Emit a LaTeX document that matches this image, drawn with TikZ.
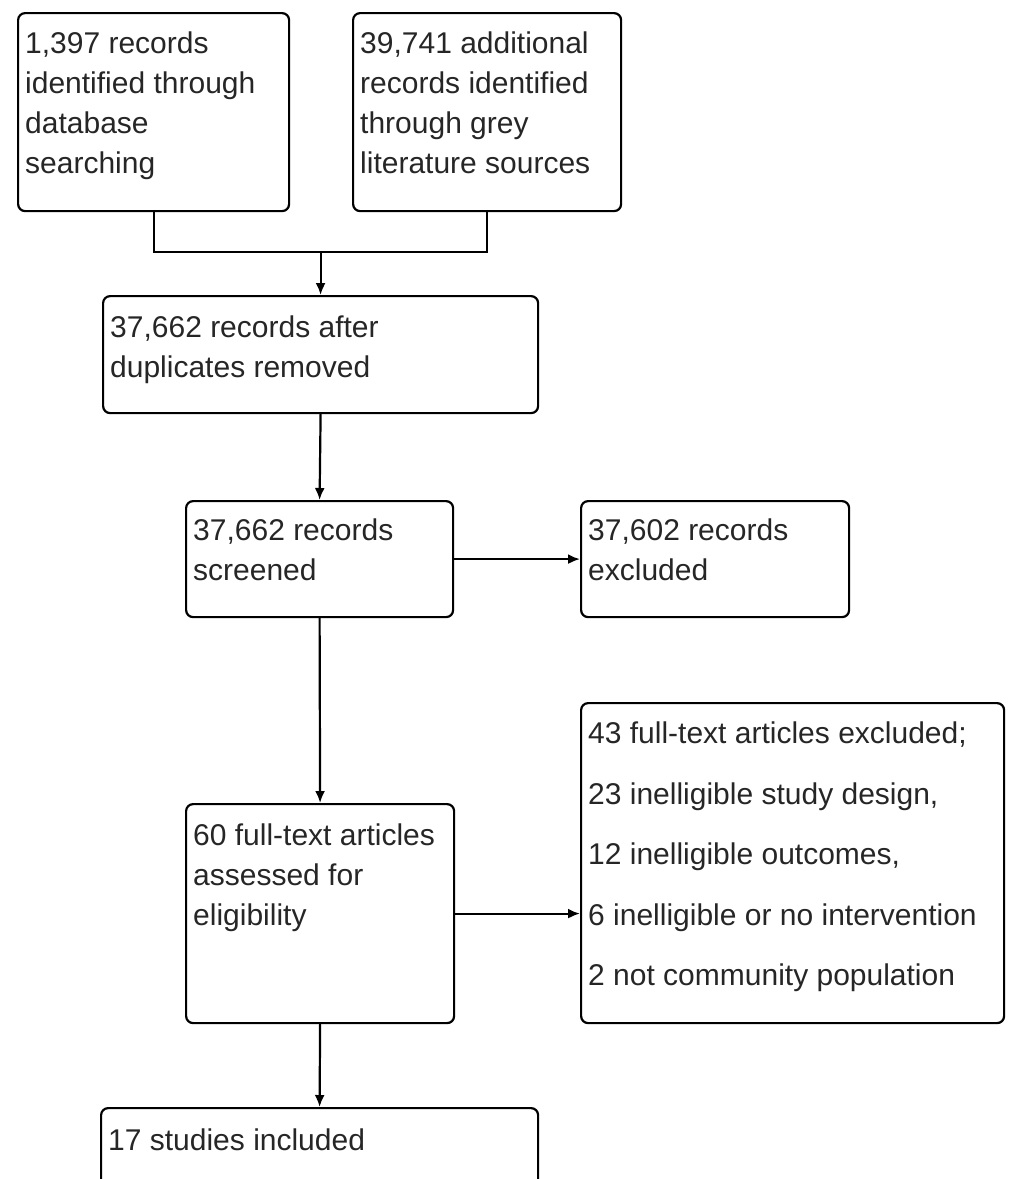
\documentclass[tikz,border=0pt]{standalone}
\usepackage{fontspec}
\setmainfont{Liberation Sans}
\usetikzlibrary{arrows.meta,calc}
\begin{document}
\begin{tikzpicture}[x=1pt,y=1pt,
  box/.style={draw=black, line width=2.2pt, rounded corners=7pt, anchor=north west, inner sep=0pt},
  txt/.style={anchor=north west, inner sep=0pt, align=left, text=black!85, font=\fontsize{30}{40}\selectfont},
  txtwide/.style={txt, font=\fontsize{30}{60.5}\selectfont},
  conn/.style={line width=2.2pt},
  arr/.style={conn, -{Latex[length=12pt,width=10pt]}}]
\useasboundingbox (0,0) rectangle (1010,-1179);
\clip (0,0) rectangle (1010,-1179);
% boxes
\node[box, minimum width=271, minimum height=198] (A) at (17,-12) {};
\node[box, minimum width=268, minimum height=198] (B) at (352,-12) {};
\node[box, minimum width=435, minimum height=117] (C) at (102,-295) {};
\node[box, minimum width=267, minimum height=116] (D) at (185,-500) {};
\node[box, minimum width=268, minimum height=116] (E) at (580,-500) {};
\node[box, minimum width=268, minimum height=219] (F) at (185,-803) {};
\node[box, minimum width=423, minimum height=320] (G) at (580,-702) {};
\node[box, minimum width=437, minimum height=150] (H) at (100,-1107) {};
% texts
\node[txt] (tA) at (25,-32) {1,397 records\\identified through\\database\\searching};
\node[txt] (tB) at (360,-32) {39,741 additional\\records identified\\through grey\\literature sources};
\node[txt] (tC) at (110,-316) {37,662 records after\\duplicates removed};
\node[txt] (tD) at (193,-519) {37,662 records\\screened};
\node[txt] (tE) at (588,-519) {37,602 records\\excluded};
\node[txt] (tF) at (193,-824) {60 full-text articles\\assessed for\\eligibility};
\node[txtwide] (tG) at (588,-722) {43 full-text articles excluded;\\23 inelligible study design,\\12 inelligible outcomes,\\6 inelligible or no intervention\\2 not community population};
\node[txt] (tH) at (108,-1129) {17 studies included};
% connectors
\coordinate (J) at ($(C.north)+(0,43)$);
\draw[conn] (A.south) |- (J) -| (B.south);
\draw[arr] (J) -- (C.north);
\draw[arr] (C.south) -- (D.north);
\draw[arr] (D.east) -- (E.west);
\draw[arr] (D.south) -- (F.north);
\draw[arr] (F.east) -- (F.east -| G.west);
\draw[arr] (F.south) -- (H.north);
\end{tikzpicture}
\end{document}
